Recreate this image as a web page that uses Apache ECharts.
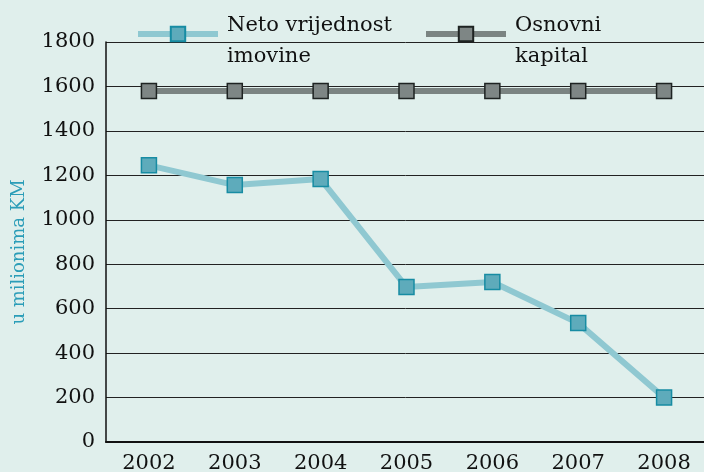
<!DOCTYPE html>
<html>
<head>
<meta charset="utf-8">
<script src="https://cdn.jsdelivr.net/npm/echarts@6/dist/echarts.min.js"></script>
<style>
  html, body { margin: 0; padding: 0; background: #e0efec; }
  #chart { width: 704px; height: 472px; }
</style>
</head>
<body>
<div id="chart"></div>
<script>
var years = ['2002', '2003', '2004', '2005', '2006', '2007', '2008'];
var netoVrijednost = [1245, 1156, 1183, 697, 720, 535, 200];
var osnovniKapital = [1580, 1580, 1580, 1580, 1580, 1580, 1580];
var nazivNeto = 'Neto vrijednost\nimovine';
var nazivKapital = 'Osnovni\nkapital';

var chart = echarts.init(document.getElementById('chart'));
var serif = 'DejaVu Serif';

// zajednicki stil legende, tekst malo podignut u odnosu na ikonu
function legenda(left, name, boja) {
  return {
    top: -4,
    left: left,
    itemWidth: 80,
    itemHeight: 18,
    lineStyle: { width: 6, color: boja },
    formatter: function (n) {
      var r = n.split('\n');
      return '{s| }\n{a|' + r[0] + '}\n{a|' + r[1] + '}';
    },
    textStyle: {
      fontFamily: serif, fontSize: 21, color: '#111', padding: [0, 0, 0, 4],
      rich: {
        a: { fontFamily: serif, fontSize: 21, color: '#111', lineHeight: 31 },
        s: { fontSize: 4, lineHeight: 15 }
      }
    },
    data: [name]
  };
}

var option = {
  backgroundColor: '#e0efec',
  textStyle: { fontFamily: serif },
  legend: [
    legenda(130, nazivNeto, '#8fc8d1'),
    legenda(418, nazivKapital, '#7b8482')
  ],
  grid: { left: 106, right: -3, top: 42, bottom: 30, outerBoundsMode: 'none' },
  xAxis: {
    type: 'category',
    data: years,
    axisLine: { lineStyle: { color: '#111', width: 2 } },
    axisTick: { inside: true, length: 9, lineStyle: { color: '#333' } },
    axisLabel: { fontFamily: serif, fontSize: 21, color: '#111', margin: 11 }
  },
  yAxis: {
    type: 'value',
    min: 0,
    max: 1800,
    interval: 200,
    name: 'u milionima KM',
    nameLocation: 'middle',
    nameGap: 78,
    nameTextStyle: { fontFamily: serif, fontSize: 18, color: '#2b9db8', padding: [0, 20, 0, 0] },
    axisLine: { show: true, lineStyle: { color: '#111', width: 1.5 } },
    axisTick: { show: false },
    axisLabel: {
      fontFamily: serif, fontSize: 21, color: '#111', margin: 11,
      formatter: function (v) { return String(v); }
    },
    splitLine: { lineStyle: { color: '#222', width: 1 } }
  },
  series: [
    {
      name: nazivNeto,
      type: 'line',
      data: netoVrijednost,
      symbol: 'rect',
      symbolSize: 15,
      lineStyle: { color: '#8fc8d1', width: 6 },
      itemStyle: { color: '#5eabbb', borderColor: '#178ca3', borderWidth: 1.5 }
    },
    {
      name: nazivKapital,
      type: 'line',
      data: osnovniKapital,
      symbol: 'rect',
      symbolSize: 15,
      lineStyle: { color: '#7b8482', width: 6 },
      itemStyle: { color: '#7e8685', borderColor: '#1e2322', borderWidth: 1.5 }
    }
  ]
};

chart.setOption(option);
</script>
</body>
</html>
